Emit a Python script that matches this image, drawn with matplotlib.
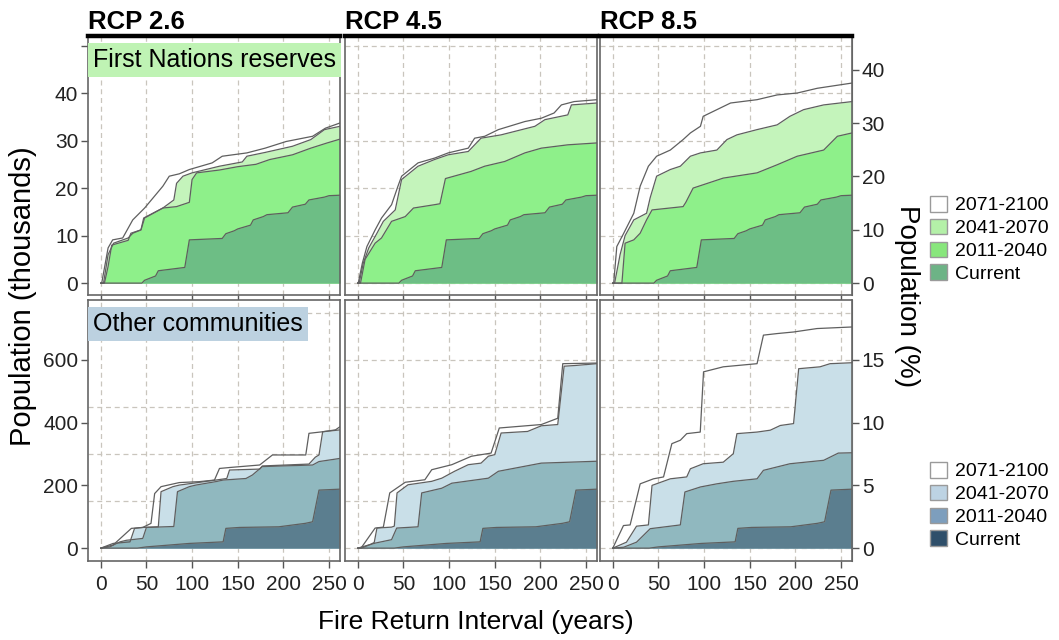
import matplotlib
matplotlib.use("Agg")
import matplotlib.pyplot as plt
from matplotlib.patches import Patch

plt.rcParams["font.family"] = ["Liberation Sans", "DejaVu Sans"]

scenarios = ["RCP 2.6", "RCP 4.5", "RCP 8.5"]
periods = ["2071-2100", "2041-2070", "2011-2040", "Current"]

# ---- First Nations reserves (thousands) ----
fn_cur_x = [0, 45, 48, 60, 63, 92, 97, 133, 137, 146, 150, 164, 167, 178, 182, 205, 210, 224, 228, 245, 250, 262]
fn_cur_y = [0, 0, 0.6, 1.5, 2.6, 3.3, 9.1, 9.4, 10.4, 11.0, 11.4, 12.2, 13.3, 14.0, 14.4, 14.8, 16.0, 16.6, 17.5, 18.1, 18.4, 18.5]

fn26_2011_x = [0, 4, 8, 12, 30, 33, 44, 48, 68, 83, 97, 100, 105, 130, 150, 170, 185, 210, 230, 248, 262]
fn26_2011_y = [0, 0, 3.5, 8.0, 9.0, 10.5, 11.2, 13.7, 15.8, 16.1, 17.0, 21.8, 23.2, 23.8, 24.5, 25.0, 26.0, 27.0, 28.4, 29.5, 30.3]
fn26_2041_x = [0, 3, 8, 14, 30, 35, 44, 47, 68, 80, 83, 90, 100, 130, 155, 160, 180, 210, 230, 245, 262]
fn26_2041_y = [0, 0, 6.0, 8.4, 9.5, 10.5, 11.2, 13.7, 15.8, 17.5, 21.0, 22.5, 23.2, 24.6, 25.5, 26.7, 27.5, 28.8, 30.2, 32.3, 33.0]
fn26_2071_x = [0, 1, 8, 13, 24, 35, 48, 68, 75, 86, 97, 122, 133, 160, 180, 203, 232, 246, 262]
fn26_2071_y = [0, 0, 7.4, 9.1, 9.5, 13.3, 15.8, 20.4, 22.5, 23.0, 23.9, 25.3, 26.7, 27.4, 28.4, 29.8, 30.9, 32.6, 33.7]

fn45_2011_x = [0, 3, 8, 19, 26, 37, 52, 61, 84, 90, 96, 124, 139, 161, 183, 201, 230, 262]
fn45_2011_y = [0, 0, 5.0, 8.4, 9.5, 13.0, 14.0, 15.8, 16.5, 16.7, 22.0, 23.5, 24.6, 25.6, 27.4, 28.4, 29.1, 29.5]
fn45_2041_x = [0, 1.5, 6, 12, 21, 28, 41, 48, 66, 84, 99, 121, 135, 157, 194, 205, 230, 234, 262]
fn45_2041_y = [0, 0, 4.2, 7.4, 10.5, 13.0, 15.4, 21.8, 24.6, 26.0, 27.0, 27.7, 30.5, 31.2, 33.0, 34.4, 35.4, 37.5, 37.9]
fn45_2071_x = [0, 0.5, 5, 10, 19, 26, 37, 44, 48, 66, 84, 99, 121, 128, 139, 154, 183, 201, 215, 223, 237, 262]
fn45_2071_y = [0, 0, 4.2, 7.7, 11.2, 13.7, 16.5, 20.4, 22.5, 25.3, 26.3, 27.4, 28.4, 30.5, 30.9, 32.3, 34.0, 34.7, 35.8, 37.5, 38.2, 38.6]

fn85_2011_x = [0, 10, 13.5, 23, 30, 37, 43, 77, 80, 88, 121, 158, 180, 202, 231, 246, 262]
fn85_2011_y = [0, 0, 8.4, 9.1, 10.5, 13.3, 15.4, 16.1, 17.0, 20.0, 22.1, 23.2, 24.9, 26.7, 28.0, 30.9, 31.6]
fn85_2041_x = [0, 2, 8, 13.5, 23, 37, 41, 48, 63, 74, 85, 96, 114, 125, 136, 158, 180, 194, 209, 231, 262]
fn85_2041_y = [0, 0, 6.0, 10.0, 13.3, 14.7, 18.0, 22.5, 23.9, 24.6, 26.7, 27.4, 28.0, 30.2, 31.2, 32.3, 33.3, 35.1, 36.5, 37.5, 38.2]
fn85_2071_x = [0, 1, 4.4, 12, 23, 30, 39, 48, 63, 77, 85, 96, 99, 114, 129, 158, 180, 202, 224, 262]
fn85_2071_y = [0, 0, 7.7, 10.5, 14.7, 20.4, 24.6, 26.7, 28.0, 30.2, 31.6, 33.0, 35.1, 36.5, 37.9, 38.6, 39.6, 40.0, 41.0, 42.1]

# ---- Other communities (thousands) ----
oc_cur_x = [0, 40, 50, 97, 134, 137, 152, 195, 224, 232, 239, 262]
oc_cur_y = [0, 0, 4, 15, 20, 63, 66, 68, 79, 84, 185, 188]

oc26_2011_x = [0, 10, 21, 28, 46, 50, 80, 84, 97, 104, 126, 134, 159, 166, 177, 232, 239, 262]
oc26_2011_y = [0, 4, 20, 25, 31, 66, 69, 180, 196, 201, 212, 217, 222, 233, 260, 265, 276, 286]
oc26_2041_x = [0, 13.5, 32, 37, 46, 63, 66, 79, 86, 126, 138, 141, 174, 177, 228, 235, 239, 243, 262]
oc26_2041_y = [0, 15, 20, 63, 66, 68, 180, 196, 201, 217, 222, 249, 252, 262, 268, 290, 297, 371, 377]
oc26_2071_x = [0, 13.5, 33.5, 46, 55, 59, 66, 86, 108, 124.5, 130, 141, 174, 188, 224.5, 228, 243, 257, 262]
oc26_2071_y = [0, 10, 63, 66, 79, 174, 196, 209, 212, 217, 254, 257, 265, 297, 297, 366, 371, 377, 387]

oc45_2011_x = [0, 19, 37, 42.6, 66, 70, 92, 103, 143, 154, 201, 262]
oc45_2011_y = [0, 16, 27, 64, 68, 176, 191, 207, 223, 245, 271, 277]
oc45_2041_x = [0, 4, 14, 18, 21, 37, 40, 43, 55, 81, 92, 106, 121, 135, 143, 150, 157, 186, 201, 219, 226, 237, 262]
oc45_2041_y = [0, 0, 12, 18, 64, 67, 70, 176, 202, 213, 223, 245, 266, 271, 293, 298, 367, 372, 390, 394, 580, 582, 588]
oc45_2071_x = [0, 4, 19, 28, 35, 52, 73.5, 81, 103, 124.5, 146, 155, 201, 219, 224.5, 262]
oc45_2071_y = [0, 2, 64, 67, 176, 210, 218, 250, 266, 293, 303, 383, 394, 414, 588, 590]

oc85_2011_x = [0, 12, 26, 41, 74, 79, 96, 114, 132, 158, 165, 194, 231, 247, 262]
oc85_2011_y = [0, 3, 19, 62, 74, 179, 195, 205, 213, 221, 248, 269, 280, 303, 304]
oc85_2041_x = [0, 15, 26, 39, 43, 63, 81, 85, 99, 121, 132, 136, 158, 172.5, 183.5, 198, 203.6, 227, 238, 262]
oc85_2041_y = [0, 19, 70, 74, 200, 221, 227, 253, 269, 274, 301, 365, 370, 376, 391, 397, 572, 578, 588, 591]
oc85_2071_x = [0, 11.7, 19, 30, 44.6, 55.6, 64.7, 74, 81, 95.8, 99.4, 121, 158, 165, 180, 198, 223.7, 262]
oc85_2071_y = [0, 72, 74, 205, 221, 227, 333, 344, 365, 370, 562, 578, 588, 679, 684, 689, 700, 705]

# totales para el eje de porcentaje (miles)
fn_total = 112.2
oc_total = 4000.0

fn_panels = [
    [(fn26_2071_x, fn26_2071_y), (fn26_2041_x, fn26_2041_y), (fn26_2011_x, fn26_2011_y), (fn_cur_x, fn_cur_y)],
    [(fn45_2071_x, fn45_2071_y), (fn45_2041_x, fn45_2041_y), (fn45_2011_x, fn45_2011_y), (fn_cur_x, fn_cur_y)],
    [(fn85_2071_x, fn85_2071_y), (fn85_2041_x, fn85_2041_y), (fn85_2011_x, fn85_2011_y), (fn_cur_x, fn_cur_y)],
]
oc_panels = [
    [(oc26_2071_x, oc26_2071_y), (oc26_2041_x, oc26_2041_y), (oc26_2011_x, oc26_2011_y), (oc_cur_x, oc_cur_y)],
    [(oc45_2071_x, oc45_2071_y), (oc45_2041_x, oc45_2041_y), (oc45_2011_x, oc45_2011_y), (oc_cur_x, oc_cur_y)],
    [(oc85_2071_x, oc85_2071_y), (oc85_2041_x, oc85_2041_y), (oc85_2011_x, oc85_2011_y), (oc_cur_x, oc_cur_y)],
]

green_fill = [None, "#c4f4bb", "#8ef08a", "#6dbe85"]
green_leg = ["#ffffff", "#b4f0a8", "#88e67c", "#6db386"]
blue_fill = [None, "#c9dfe8", "#90b8bf", "#5b7e8f"]
blue_leg = ["#ffffff", "#bdd3e3", "#7d9ebd", "#2f4f6a"]

W, H = 1059, 640
fig = plt.figure(figsize=(W / 100, H / 100), dpi=100)

col_px = [(88, 340), (345, 597), (600, 852)]
row_px = [(36, 295), (300, 561)]


def add_ax(cols, rows):
    l, r = cols
    t, b = rows
    return fig.add_axes([l / W, 1 - b / H, (r - l) / W, (b - t) / H])


def draw(ax, curves, fills):
    for (x, y), c in zip(curves, fills):
        if c is not None:
            ax.fill_between(x, 0, y, color=c, lw=0, zorder=2)
    for x, y in curves:
        ax.plot(x, y, color="#5f5f5f", lw=0.9, zorder=3)


def style(ax, ylim, yticks, ylabels, grid_y, show_left, show_x):
    ax.set_xlim(-14, 262)
    ax.set_ylim(*ylim)
    ax.set_xticks([0, 50, 100, 150, 200, 250])
    ax.set_yticks(grid_y, minor=True)
    ax.set_axisbelow(True)
    ax.grid(True, axis="x", which="major", color="#c9c5bd", ls=(0, (4, 3)), lw=0.9)
    ax.grid(True, axis="y", which="minor", color="#c9c5bd", ls=(0, (4, 3)), lw=0.9)
    ax.tick_params(which="minor", length=0)
    ax.tick_params(which="major", direction="out", length=5, width=1, color="#555555",
                   labelsize=15, labelcolor="#222222", pad=2)
    ax.tick_params(axis="x", pad=5)
    for s in ax.spines.values():
        s.set_color("#666666")
        s.set_linewidth(1.2)
    if show_left:
        ax.set_yticks(yticks)
        ax.set_yticklabels(ylabels)
    else:
        ax.set_yticks([])
    if not show_x:
        ax.set_xticklabels([])


for i in range(3):
    # fila superior: First Nations reserves
    ax = add_ax(col_px[i], row_px[0])
    draw(ax, fn_panels[i], green_fill)
    style(ax, (-2.5, 52), [0, 10, 20, 30, 40, 50], ["0", "10", "20", "30", "40", ""],
          [0, 10, 20, 30, 40, 50], i == 0, False)
    ax.spines["top"].set_color("black")
    ax.spines["top"].set_linewidth(3.2)
    ax.set_title(scenarios[i], loc="left", fontsize=18.5, fontweight="bold", pad=5)
    if i == 0:
        ax.text(0.02, 0.955, "First Nations reserves", transform=ax.transAxes,
                fontsize=18, va="top", ha="left", zorder=5,
                bbox=dict(boxstyle="square,pad=0.2", fc="#bff3b4", ec="none"))
    if i == 2:
        sec = ax.secondary_yaxis("right", functions=(lambda k: k / fn_total * 100,
                                                     lambda p: p * fn_total / 100))
        sec.set_yticks([0, 10, 20, 30, 40])
        sec.tick_params(direction="out", length=5, width=1, color="#555555",
                        labelsize=15, labelcolor="#222222", pad=2)
        sec.spines["right"].set_color("#666666")

    # fila inferior: Other communities
    ax = add_ax(col_px[i], row_px[1])
    draw(ax, oc_panels[i], blue_fill)
    style(ax, (-41, 791), [0, 200, 400, 600], ["0", "200", "400", "600"],
          [0, 150, 300, 450, 600, 750], i == 0, True)
    if i == 0:
        ax.text(0.02, 0.955, "Other communities", transform=ax.transAxes,
                fontsize=18, va="top", ha="left", zorder=5,
                bbox=dict(boxstyle="square,pad=0.2", fc="#bcd1e0", ec="none"))
    if i == 2:
        sec = ax.secondary_yaxis("right", functions=(lambda k: k / oc_total * 100,
                                                     lambda p: p * oc_total / 100))
        sec.set_yticks([0, 5, 10, 15])
        sec.tick_params(direction="out", length=5, width=1, color="#555555",
                        labelsize=15, labelcolor="#222222", pad=2)
        sec.spines["right"].set_color("#666666")

# etiquetas de ejes
fig.text(23 / W, 1 - 296 / H, "Population (thousands)", rotation=90, ha="center",
         va="center", fontsize=21)
fig.text(907 / W, 1 - 296 / H, "Population (%)", rotation=270, ha="center",
         va="center", fontsize=20)
fig.text(476 / W, 1 - 622 / H, "Fire Return Interval (years)", ha="center",
         va="center", fontsize=19)

# leyendas
for leg_colors, top in [(green_leg, 196), (blue_leg, 462)]:
    handles = [Patch(fc=c, ec="#9a9a9a", lw=1) for c in leg_colors]
    fig.legend(handles, periods, loc="upper left", bbox_to_anchor=(930 / W, 1 - top / H),
               frameon=False, fontsize=14, handlelength=0.85, handleheight=0.85,
               handletextpad=0.45, labelspacing=0.22, borderpad=0, borderaxespad=0)

fig.savefig("out.png", dpi=100)
